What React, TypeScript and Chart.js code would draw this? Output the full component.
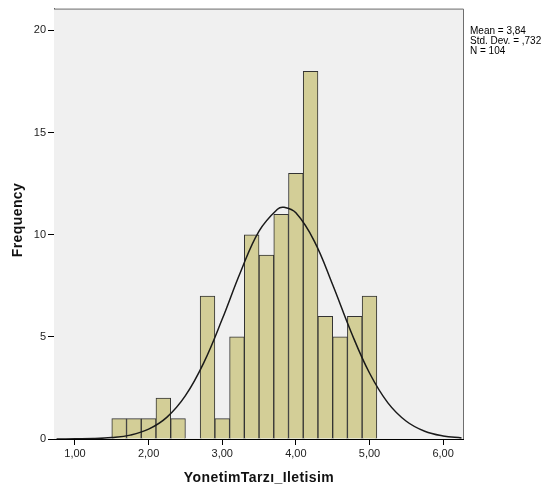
import React, { useEffect, useRef } from "react";
import { Chart, registerables } from "chart.js";

Chart.register(...registerables);

// Histogram bins (bin centers, width 0.2) and frequencies
const binCenters = [1.6, 1.8, 2.0, 2.2, 2.4, 2.8, 3.0, 3.2, 3.4, 3.6, 3.8, 4.0, 4.2, 4.4, 4.6, 4.8, 5.0];
const frequencies = [1, 1, 1, 2, 1, 7, 1, 5, 10, 9, 11, 13, 18, 6, 5, 6, 7];

// Fitted normal curve
const curveX = [0.75, 1.0, 1.25, 1.5, 1.75, 2.0, 2.25, 2.5, 2.75, 3.0, 3.25, 3.5, 3.75, 3.84, 4.0, 4.25, 4.5, 4.75, 5.0, 5.25, 5.5, 5.75, 6.0, 6.25];
const curveY = [0.0, 0.01, 0.02, 0.07, 0.19, 0.48, 1.07, 2.12, 3.74, 5.87, 8.19, 10.18, 11.25, 11.34, 11.07, 9.69, 7.55, 5.24, 3.23, 1.77, 0.87, 0.38, 0.15, 0.05];

const xTicks = [1, 2, 3, 4, 5, 6];
const yTicks = [0, 5, 10, 15, 20];

const statsLines = ["Mean = 3,84", "Std. Dev. = ,732", "N = 104"];
const xTitle = "YonetimTarzı_Iletisim";
const yTitle = "Frequency";

const FONT = "'Liberation Sans', Arial, sans-serif";

export default function App() {
  const ref = useRef<HTMLCanvasElement>(null);

  useEffect(() => {
    document.body.style.margin = "0";
    const canvas = ref.current!;
    const decor = {
      id: "decor",
      beforeDatasetsDraw(chart: any) {
        const { ctx, chartArea: a } = chart;
        ctx.save();
        ctx.fillStyle = "#F0F0F0";
        ctx.fillRect(a.left, a.top, a.right - a.left, a.bottom - a.top);
        ctx.restore();
      },
      afterDraw(chart: any) {
        const { ctx, chartArea: a } = chart;
        ctx.save();
        ctx.strokeStyle = "#6E6E6E";
        ctx.lineWidth = 1;
        ctx.beginPath();
        ctx.moveTo(a.left, a.top + 0.5);
        ctx.lineTo(a.right + 0.5, a.top + 0.5);
        ctx.lineTo(a.right + 0.5, a.bottom);
        ctx.stroke();
        ctx.fillStyle = "#000";
        ctx.font = `10px ${FONT}`;
        ctx.textAlign = "left";
        ctx.textBaseline = "middle";
        statsLines.forEach((t, i) => ctx.fillText(t, 470, 31.5 + i * 9.8));
        ctx.font = `bold 14px ${FONT}`;
        (ctx as any).letterSpacing = "0.4px";
        ctx.fillStyle = "#111";
        ctx.textAlign = "center";
        ctx.fillText(xTitle, 259, 478);
        ctx.translate(18, 220);
        ctx.rotate(-Math.PI / 2);
        ctx.fillText(yTitle, 0, 0);
        ctx.restore();
      },
    };
    const chart = new Chart(canvas, {
      type: "bar",
      data: {
        datasets: [
          {
            type: "line",
            data: curveX.map((x, i) => ({ x, y: curveY[i] })),
            borderColor: "#1A1A1A",
            borderWidth: 1.5,
            pointRadius: 0,
            tension: 0.4,
            fill: false,
            order: 0,
          } as any,
          {
            type: "bar",
            data: binCenters.map((x, i) => ({ x, y: frequencies[i] })),
            backgroundColor: "#D3CE97",
            borderColor: "#333333",
            borderWidth: 1,
            barPercentage: 1,
            categoryPercentage: 1,
            order: 1,
          } as any,
        ],
      },
      options: {
        animation: false,
        responsive: false,
        maintainAspectRatio: false,
        layout: { padding: { left: 0, top: 4, right: 83, bottom: 0 } },
        plugins: { legend: { display: false }, tooltip: { enabled: false } },
        scales: {
          x: {
            type: "linear",
            min: 0.715,
            max: 6.27,
            offset: false,
            afterBuildTicks: (s: any) => { s.ticks = xTicks.map((v) => ({ value: v })); },
            afterFit: (s: any) => { s.height = 49; },
            ticks: {
              color: "#222",
              font: { family: FONT, size: 11 },
              padding: 2,
              maxRotation: 0,
              callback: (v: any) => Number(v).toFixed(2).replace(".", ","),
            },
            grid: { display: true, offset: false, drawOnChartArea: false, drawTicks: true, tickLength: 6, color: "#000" },
            border: { display: true, color: "#000", width: 1 },
          },
          y: {
            type: "linear",
            min: 0,
            max: 21.07,
            afterBuildTicks: (s: any) => { s.ticks = yTicks.map((v) => ({ value: v })); },
            afterFit: (s: any) => { s.width = 54; },
            ticks: {
              color: "#222",
              font: { family: FONT, size: 11 },
              padding: 2,
            },
            grid: { display: true, drawOnChartArea: false, drawTicks: true, tickLength: 6, color: "#000" },
            border: { display: true, color: "#000", width: 1 },
          },
        },
      },
      plugins: [decor],
    } as any);
    return () => chart.destroy();
  }, []);

  return (
    <div style={{ width: 546, height: 488 }}>
      <canvas ref={ref} width={546} height={488} style={{ width: 546, height: 488, display: "block" }} />
    </div>
  );
}
